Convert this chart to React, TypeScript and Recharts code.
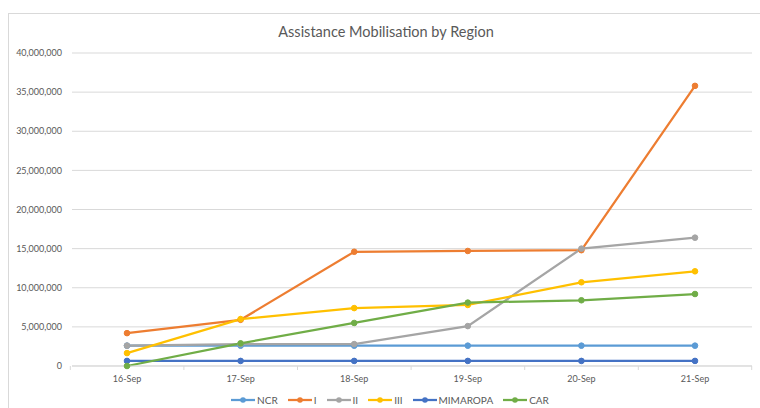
import React from 'react'
import { LineChart, Line, XAxis, YAxis, CartesianGrid } from 'recharts'

const dates = ['16-Sep', '17-Sep', '18-Sep', '19-Sep', '20-Sep', '21-Sep']

const ncr = [2600000, 2600000, 2600000, 2600000, 2600000, 2600000]
const regionI = [4200000, 5900000, 14600000, 14700000, 14800000, 35800000]
const regionII = [2600000, 2800000, 2800000, 5100000, 15000000, 16400000]
const regionIII = [1650000, 6000000, 7400000, 7800000, 10700000, 12100000]
const mimaropa = [650000, 650000, 650000, 650000, 650000, 650000]
const car = [0, 2900000, 5500000, 8100000, 8400000, 9200000]

const yTicks = [0, 5000000, 10000000, 15000000, 20000000, 25000000, 30000000, 35000000, 40000000]

const series = [
  { key: 'NCR', values: ncr, color: '#5B9BD5' },
  { key: 'I', values: regionI, color: '#ED7D31' },
  { key: 'II', values: regionII, color: '#A5A5A5' },
  { key: 'III', values: regionIII, color: '#FFC000' },
  { key: 'MIMAROPA', values: mimaropa, color: '#4472C4' },
  { key: 'CAR', values: car, color: '#70AD47' },
]

const data = dates.map((d, i) => {
  const row: Record<string, string | number> = { date: d }
  series.forEach((s) => {
    row[s.key] = s.values[i]
  })
  return row
})

const font = 'Lato, "Open Sans", sans-serif'
const textColor = '#595959'
const halfStep = 56.7

// category label plus Excel-style tick marks between categories
function DateTick(props: any) {
  const { x, y, payload, index } = props
  return (
    <g>
      <line x1={x - halfStep} y1={y - 6} x2={x - halfStep} y2={y - 2} stroke="#d9d9d9" />
      {index === dates.length - 1 && (
        <line x1={x + halfStep} y1={y - 6} x2={x + halfStep} y2={y - 2} stroke="#d9d9d9" />
      )}
      <text x={x} y={y + 10} textAnchor="middle" fill={textColor} fontSize={9} fontFamily={font}>
        {payload.value}
      </text>
    </g>
  )
}

function LegendRow() {
  return (
    <div
      style={{
        position: 'absolute',
        top: 393,
        left: 0,
        width: 780,
        display: 'flex',
        justifyContent: 'center',
        gap: 10,
        fontFamily: font,
        fontSize: 10,
        color: textColor,
      }}
    >
      {series.map((s) => (
        <div key={s.key} style={{ display: 'flex', alignItems: 'center', gap: 2 }}>
          <svg width={24} height={14}>
            <line x1={0} y1={7} x2={24} y2={7} stroke={s.color} strokeWidth={2.25} />
            <circle cx={12} cy={7} r={2.8} fill={s.color} />
          </svg>
          <span>{s.key}</span>
        </div>
      ))}
    </div>
  )
}

export default function App() {
  return (
    <div style={{ position: 'absolute', top: 0, left: 0, width: 760, height: 408, background: '#fff', overflow: 'hidden' }}>
      <div
        style={{
          position: 'absolute',
          left: 8,
          top: 13,
          width: 780,
          height: 420,
          border: '1px solid #d9d9d9',
        }}
      />
      <div
        style={{
          position: 'absolute',
          top: 23,
          left: 0,
          width: 772,
          textAlign: 'center',
          fontFamily: font,
          fontSize: 14.5,
          color: textColor,
        }}
      >
        Assistance Mobilisation by Region
      </div>
      <div style={{ position: 'absolute', top: 0, left: 0 }}>
        <LineChart width={760} height={408} data={data} margin={{ top: 53, right: 8, bottom: 22, left: 0 }}>
          <CartesianGrid vertical={false} stroke="#d9d9d9" strokeWidth={1} />
          <XAxis
            dataKey="date"
            height={20}
            padding={{ left: 55, right: 57 }}
            axisLine={{ stroke: '#d9d9d9' }}
            tickLine={false}
            tickSize={0}
            tickMargin={6}
            interval={0}
            tick={<DateTick />}
          />
          <YAxis
            width={72}
            domain={[0, 40000000]}
            ticks={yTicks}
            axisLine={false}
            tickLine={false}
            tickSize={0}
            tickMargin={10}
            tick={{ fill: textColor, fontSize: 9, fontFamily: font }}
            tickFormatter={(v: number) => v.toLocaleString('en-US')}
          />
          {series.map((s) => (
            <Line
              key={s.key}
              dataKey={s.key}
              stroke={s.color}
              strokeWidth={2.25}
              dot={{ r: 2.8, fill: s.color, stroke: s.color, strokeWidth: 1 }}
              isAnimationActive={false}
            />
          ))}
        </LineChart>
      </div>
      <LegendRow />
    </div>
  )
}
